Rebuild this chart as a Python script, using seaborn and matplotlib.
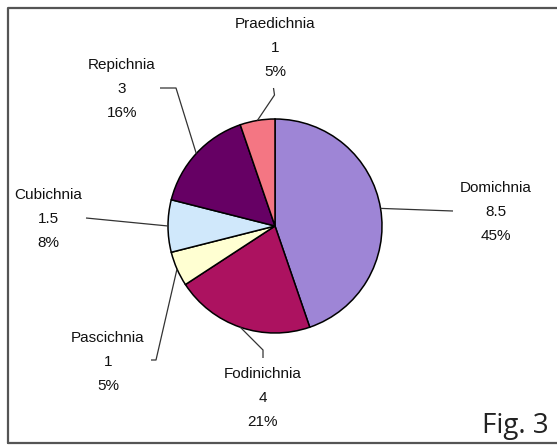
import numpy as np
import matplotlib
matplotlib.use("Agg")
import matplotlib.pyplot as plt
import seaborn as sns

categories = ["Domichnia", "Fodinichnia", "Pascichnia", "Cubichnia", "Repichnia", "Praedichnia"]
values = [8.5, 4, 1, 1.5, 3, 1]
value_labels = ["8.5", "4", "1", "1.5", "3", "1"]
colors = ["#9E85D6", "#AC1260", "#FFFFD2", "#D0E8FB", "#660064", "#F47683"]

# label block centres and leader elbows (pixel layout, y measured from top)
label_pos = {
    "Domichnia": (496, 212), "Fodinichnia": (263, 398), "Pascichnia": (108, 362),
    "Cubichnia": (48, 219), "Repichnia": (122, 89), "Praedichnia": (275, 48),
}
leader_path = {
    "Domichnia": [(453, 211)],
    "Fodinichnia": [(263, 350), (263, 358)],
    "Pascichnia": [(156, 360), (151, 360)],
    "Cubichnia": [(86, 218)],
    "Repichnia": [(176, 88), (160, 88)],
    "Praedichnia": [(274.5, 95), (273.5, 88)],
}

sns.set_style("white")
plt.rcParams["font.family"] = ["Liberation Sans", "DejaVu Sans"]

W, H = 557, 448
fig = plt.figure(figsize=(W / 100, H / 100), dpi=100)
ax = fig.add_axes([0, 0, 1, 1])

cx, cy, r = 275, 226, 107
wedges, _ = ax.pie(values, colors=colors, startangle=90, counterclock=False,
                   center=(cx, H - cy), radius=r, frame=True,
                   wedgeprops=dict(edgecolor="black", linewidth=1.1))
ax.set_xlim(0, W)
ax.set_ylim(0, H)
ax.set_axis_off()

total = sum(values)
for w, name, v, vl in zip(wedges, categories, values, value_labels):
    mid = np.deg2rad((w.theta1 + w.theta2) / 2)
    ex, ey = cx + r * np.cos(mid), (H - cy) + r * np.sin(mid)
    pts = [(ex, ey)] + [(px, H - py) for px, py in leader_path[name]]
    xs, ys = zip(*pts)
    ax.plot(xs, ys, color="#333333", lw=0.9, solid_capstyle="butt")
    lx, ly = label_pos[name]
    pct = f"{round(v / total * 100):.0f}%"
    ax.text(lx, H - ly, f"{name}\n{vl}\n{pct}", ha="center", va="center",
            fontsize=11, linespacing=1.9, color="#111111")

# border frame
ax.plot([7.5, 7.5, W + 2], [H - 443, H - 7.5, H - 7.5], color="#555555", lw=1.6, clip_on=False)
ax.plot([7.5, W + 2], [H - 443, H - 443], color="#555555", lw=1.6)

ax.text(549, H - 426, "Fig. 3", ha="right", va="center", fontsize=20,
        family=["Open Sans", "DejaVu Sans"], color="#222222")

fig.savefig("out.png", dpi=100)
